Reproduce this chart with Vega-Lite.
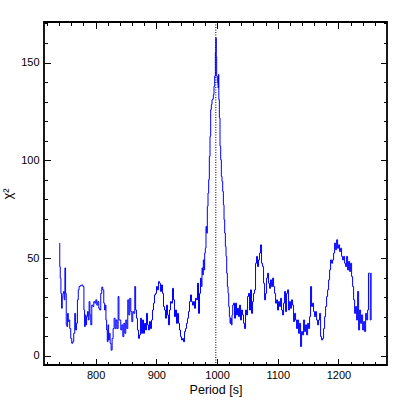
{
  "$schema": "https://vega.github.io/schema/vega-lite/v6.json",
  "width": 343,
  "height": 343,
  "autosize": "none",
  "padding": {"left": 44, "top": 22, "right": 22, "bottom": 44},
  "config": {
    "view": {"stroke": "#000000", "strokeWidth": 1.8},
    "axis": {"domain": false, "grid": false, "labelFont": "Liberation Sans", "titleFont": "Liberation Sans", "labelColor": "#000000", "titleColor": "#000000", "tickColor": "#000000", "tickWidth": 1}
  },
  "datasets": {
    "chi": [
      {"p":740.7,"c":57.7},{"p":741.2,"c":45.7},{"p":742.3,"c":39.8},{"p":743.4,"c":32},{"p":744.5,"c":24.4},{"p":745.6,"c":30},{"p":746.7,"c":32},{"p":747.8,"c":33},{"p":748.9,"c":28.7},{"p":750.0,"c":45},
      {"p":751.1,"c":32},{"p":752.2,"c":15.9},{"p":753.3,"c":15},{"p":754.4,"c":21.8},{"p":755.5,"c":17.6},{"p":756.6,"c":18.4},{"p":758.2,"c":14},{"p":759.9,"c":9},{"p":761.5,"c":6.5},{"p":763.2,"c":7.3},
      {"p":764.8,"c":11.6},{"p":766.5,"c":21.8},{"p":767.6,"c":13.3},{"p":769.2,"c":16.7},{"p":770.9,"c":28.7},{"p":772.0,"c":33.8},{"p":773.6,"c":35.5},{"p":775.8,"c":36},{"p":778.0,"c":36.3},{"p":780.2,"c":35.5},
      {"p":781.3,"c":23.5},{"p":782.4,"c":15},{"p":783.5,"c":21},{"p":784.6,"c":15.9},{"p":785.7,"c":20.1},{"p":787.4,"c":22.7},{"p":788.5,"c":18.4},{"p":790.1,"c":27.8},{"p":791.2,"c":21},{"p":792.9,"c":15.9},
      {"p":794.5,"c":26},{"p":796.2,"c":25.3},{"p":797.8,"c":27.8},{"p":799.5,"c":27},{"p":801.1,"c":28.7},{"p":802.7,"c":26},{"p":804.4,"c":27.8},{"p":806.0,"c":24.4},{"p":807.7,"c":23.5},{"p":809.3,"c":32},
      {"p":811.0,"c":35.2},{"p":812.6,"c":33.8},{"p":814.3,"c":27},{"p":815.4,"c":23.5},{"p":816.5,"c":26},{"p":817.6,"c":18.4},{"p":818.7,"c":13.3},{"p":819.8,"c":7.3},{"p":820.9,"c":15.9},{"p":822.0,"c":8.2},
      {"p":823.1,"c":11.6},{"p":824.7,"c":6.5},{"p":826.4,"c":3},{"p":828.0,"c":9},{"p":829.7,"c":14},{"p":831.3,"c":19.3},{"p":833.0,"c":14},{"p":834.6,"c":18.4},{"p":836.3,"c":14},{"p":837.9,"c":30.4},
      {"p":839.0,"c":18.4},{"p":840.7,"c":18.4},{"p":842.3,"c":13.3},{"p":844.0,"c":15.9},{"p":845.6,"c":9.9},{"p":847.3,"c":16.7},{"p":848.9,"c":11.6},{"p":850.5,"c":18.4},{"p":852.2,"c":14},{"p":853.8,"c":28.7},
      {"p":855.5,"c":21},{"p":857.1,"c":29.5},{"p":858.8,"c":22.7},{"p":860.4,"c":17.6},{"p":862.1,"c":22.7},{"p":863.7,"c":21.8},{"p":865.4,"c":35.5},{"p":866.5,"c":23.5},{"p":868.1,"c":19.3},{"p":869.8,"c":13.3},
      {"p":871.4,"c":9},{"p":873.1,"c":10.8},{"p":874.7,"c":19.3},{"p":876.4,"c":11.6},{"p":878.0,"c":18.4},{"p":879.7,"c":11.6},{"p":881.3,"c":16.7},{"p":883.0,"c":13.3},{"p":884.6,"c":21.8},{"p":886.3,"c":15.9},
      {"p":887.9,"c":13.3},{"p":889.6,"c":17.6},{"p":891.2,"c":14},{"p":892.9,"c":18.4},{"p":894.5,"c":23.5},{"p":896.2,"c":27},{"p":897.8,"c":31.2},{"p":899.5,"c":32},{"p":901.1,"c":35.5},{"p":902.7,"c":33.8},
      {"p":904.4,"c":38},{"p":906.0,"c":37.2},{"p":907.7,"c":33},{"p":909.3,"c":36.3},{"p":911.0,"c":32},{"p":912.6,"c":25.3},{"p":914.3,"c":23.5},{"p":915.9,"c":19.3},{"p":917.6,"c":26},{"p":919.2,"c":21},
      {"p":920.9,"c":15.9},{"p":922.5,"c":23.5},{"p":924.2,"c":27.8},{"p":925.8,"c":27},{"p":927.5,"c":34.6},{"p":929.1,"c":28.7},{"p":930.8,"c":20.1},{"p":932.4,"c":23.5},{"p":934.1,"c":16.7},{"p":935.7,"c":21.8},
      {"p":937.4,"c":16.7},{"p":939.0,"c":13.3},{"p":940.7,"c":9.9},{"p":942.3,"c":8.2},{"p":944.0,"c":9},{"p":945.6,"c":7.3},{"p":947.3,"c":12.5},{"p":948.9,"c":14},{"p":950.5,"c":16.7},{"p":952.2,"c":19.3},
      {"p":953.8,"c":22.7},{"p":955.5,"c":27.8},{"p":957.1,"c":31.2},{"p":958.8,"c":27.8},{"p":960.4,"c":26},{"p":962.1,"c":27.8},{"p":963.7,"c":24.4},{"p":965.4,"c":29.5},{"p":967.0,"c":28.7},{"p":968.7,"c":37.2},
      {"p":970.3,"c":21.8},{"p":972.0,"c":32},{"p":973.6,"c":39.8},{"p":974.7,"c":35.5},{"p":975.8,"c":45},{"p":976.9,"c":41.5},{"p":978.0,"c":49.1},{"p":979.1,"c":44},{"p":980.2,"c":52.6},{"p":981.3,"c":55.1},
      {"p":982.4,"c":66.2},{"p":983.5,"c":62.8},{"p":984.6,"c":76.5},{"p":985.7,"c":83.3},{"p":986.8,"c":90.1},{"p":987.9,"c":102},{"p":989.0,"c":112.3},{"p":990.1,"c":125.9},{"p":991.2,"c":128.5},{"p":992.3,"c":131},
      {"p":993.4,"c":131.4},{"p":994.5,"c":133.6},{"p":995.6,"c":137.9},{"p":996.7,"c":143},{"p":997.8,"c":155},{"p":998.4,"c":162.6},{"p":998.9,"c":153.2},{"p":1000.0,"c":143},{"p":1001.1,"c":139.6},{"p":1002.2,"c":137},
      {"p":1002.7,"c":143.9},{"p":1003.3,"c":131},{"p":1004.4,"c":121.7},{"p":1005.5,"c":107.2},{"p":1006.6,"c":100.3},{"p":1007.7,"c":91.8},{"p":1008.8,"c":89.2},{"p":1009.9,"c":84.1},{"p":1011.0,"c":77.3},{"p":1012.1,"c":69.6},
      {"p":1013.2,"c":62.8},{"p":1014.3,"c":56},{"p":1015.4,"c":50.9},{"p":1016.5,"c":42.3},{"p":1017.6,"c":35.5},{"p":1018.7,"c":32},{"p":1019.8,"c":25.3},{"p":1020.9,"c":20.1},{"p":1022.0,"c":16.7},{"p":1023.1,"c":19.3},
      {"p":1024.2,"c":15.9},{"p":1025.3,"c":21},{"p":1026.4,"c":26},{"p":1028.0,"c":27},{"p":1029.7,"c":19.3},{"p":1031.3,"c":27},{"p":1033.0,"c":21},{"p":1034.6,"c":24.4},{"p":1036.3,"c":20.1},{"p":1037.9,"c":26},
      {"p":1039.6,"c":18.4},{"p":1041.2,"c":23.5},{"p":1042.9,"c":21},{"p":1044.5,"c":16.7},{"p":1046.2,"c":14},{"p":1047.8,"c":23.5},{"p":1049.5,"c":21},{"p":1051.1,"c":30.4},{"p":1052.7,"c":32},{"p":1054.4,"c":23.5},
      {"p":1056.0,"c":33.8},{"p":1057.7,"c":21.8},{"p":1059.3,"c":27.8},{"p":1061.0,"c":32},{"p":1062.6,"c":33.8},{"p":1064.3,"c":47.4},{"p":1065.9,"c":50.9},{"p":1067.6,"c":45.7},{"p":1069.2,"c":49.1},{"p":1070.9,"c":52.6},
      {"p":1072.5,"c":56.8},{"p":1074.2,"c":47.4},{"p":1075.8,"c":45.7},{"p":1077.5,"c":37.2},{"p":1079.1,"c":28.7},{"p":1080.8,"c":32},{"p":1082.4,"c":39.8},{"p":1084.1,"c":42.3},{"p":1085.7,"c":37.2},{"p":1087.4,"c":34.6},
      {"p":1089.0,"c":38.9},{"p":1090.7,"c":35.5},{"p":1092.3,"c":39.8},{"p":1094.0,"c":35.5},{"p":1095.6,"c":32},{"p":1097.3,"c":27},{"p":1098.9,"c":28.7},{"p":1100.5,"c":23.5},{"p":1102.2,"c":27.8},{"p":1103.8,"c":25.3},
      {"p":1105.5,"c":29.5},{"p":1107.1,"c":23.5},{"p":1108.8,"c":21},{"p":1110.4,"c":27},{"p":1112.1,"c":33},{"p":1113.7,"c":22.7},{"p":1115.4,"c":32},{"p":1117.0,"c":33.8},{"p":1118.7,"c":23.5},{"p":1120.3,"c":27.8},
      {"p":1122.0,"c":24.4},{"p":1123.6,"c":28.7},{"p":1125.3,"c":26},{"p":1126.9,"c":17.6},{"p":1128.6,"c":21.8},{"p":1130.2,"c":18.4},{"p":1131.9,"c":14},{"p":1133.5,"c":18.4},{"p":1135.2,"c":11.6},{"p":1136.8,"c":16.7},
      {"p":1138.5,"c":4.8},{"p":1140.1,"c":12.5},{"p":1141.8,"c":10.8},{"p":1143.4,"c":18.4},{"p":1145.1,"c":12.5},{"p":1146.7,"c":15.9},{"p":1148.4,"c":10.8},{"p":1150.0,"c":16.7},{"p":1151.6,"c":14},{"p":1153.3,"c":20.1},
      {"p":1154.9,"c":35.5},{"p":1156.6,"c":25.3},{"p":1158.2,"c":27},{"p":1159.9,"c":22.7},{"p":1161.5,"c":20.1},{"p":1163.2,"c":22.7},{"p":1164.8,"c":18.4},{"p":1166.5,"c":15.9},{"p":1168.1,"c":18.4},{"p":1169.8,"c":21.8},
      {"p":1171.4,"c":9.9},{"p":1173.1,"c":8.2},{"p":1174.7,"c":9},{"p":1176.4,"c":14},{"p":1178.0,"c":20.1},{"p":1179.7,"c":25.3},{"p":1181.3,"c":30.4},{"p":1183.0,"c":33.8},{"p":1184.6,"c":38.9},{"p":1186.3,"c":44},
      {"p":1187.9,"c":49.1},{"p":1189.6,"c":47.4},{"p":1191.2,"c":49.1},{"p":1192.9,"c":52.6},{"p":1194.5,"c":57.7},{"p":1196.2,"c":54.3},{"p":1197.8,"c":59.4},{"p":1199.5,"c":55.1},{"p":1201.1,"c":56.8},{"p":1202.7,"c":53.4},
      {"p":1204.4,"c":55.1},{"p":1206.0,"c":50.9},{"p":1207.7,"c":49.1},{"p":1209.3,"c":50.9},{"p":1211.0,"c":47.4},{"p":1212.6,"c":45.7},{"p":1214.3,"c":50.9},{"p":1215.9,"c":44},{"p":1217.6,"c":48.3},{"p":1219.2,"c":43.2},
      {"p":1220.9,"c":47.4},{"p":1222.5,"c":40.6},{"p":1224.2,"c":35.5},{"p":1225.8,"c":28.7},{"p":1227.5,"c":21.8},{"p":1229.1,"c":25.3},{"p":1230.8,"c":18.4},{"p":1232.4,"c":33},{"p":1234.1,"c":13.3},{"p":1235.7,"c":23.5},
      {"p":1237.4,"c":16.7},{"p":1239.0,"c":21},{"p":1240.7,"c":13.3},{"p":1242.3,"c":17.6},{"p":1244.0,"c":12.5},{"p":1245.6,"c":21.8},{"p":1247.3,"c":18.4},{"p":1248.9,"c":23.5},{"p":1250.0,"c":42.3},{"p":1251.6,"c":42.3},
      {"p":1253.3,"c":18.4},{"p":1254.4,"c":42.3}
    ],
    "anchor": [{"p": 800, "c": 0}],
    "mark": [{"p": 998}]
  },
  "resolve": {"axis": {"x": "independent", "y": "independent"}},
  "layer": [
    {
      "data": {"name": "chi"},
      "mark": {"type": "line", "interpolate": "step", "color": "#0000ff", "strokeWidth": 1},
      "encoding": {
        "x": {"field": "p", "type": "quantitative", "scale": {"domain": [715, 1280], "nice": false, "zero": false},
              "axis": {"orient": "bottom", "values": [800, 900, 1000, 1100, 1200], "format": "d", "ticks": false, "labelPadding": 4, "labelFontSize": 11, "title": "Period [s]", "titleFontSize": 12.5, "titleFontWeight": "normal", "titlePadding": 3}},
        "y": {"field": "c", "type": "quantitative", "scale": {"domain": [-4.6, 170.7], "nice": false, "zero": false},
              "axis": {"orient": "left", "values": [0, 50, 100, 150], "format": "d", "ticks": false, "labelPadding": 5, "labelFontSize": 11, "title": "χ²", "titleFontSize": 13, "titleFontWeight": "normal", "titlePadding": 6}}
      }
    },
    {
      "data": {"name": "anchor"},
      "mark": {"type": "point", "opacity": 0},
      "encoding": {
        "x": {"field": "p", "type": "quantitative", "scale": {"domain": [715, 1280], "nice": false, "zero": false},
              "axis": {"orient": "bottom", "values": [800, 900, 1000, 1100, 1200], "labels": false, "tickSize": -6.5, "title": null}},
        "y": {"field": "c", "type": "quantitative", "scale": {"domain": [-4.6, 170.7], "nice": false, "zero": false},
              "axis": {"orient": "left", "values": [0, 50, 100, 150], "labels": false, "tickSize": -6.5, "title": null}}
      }
    },
    {
      "data": {"name": "anchor"},
      "mark": {"type": "point", "opacity": 0},
      "encoding": {
        "x": {"field": "p", "type": "quantitative", "scale": {"domain": [715, 1280], "nice": false, "zero": false},
              "axis": {"orient": "bottom", "values": [720, 740, 760, 780, 820, 840, 860, 880, 920, 940, 960, 980, 1020, 1040, 1060, 1080, 1120, 1140, 1160, 1180, 1220, 1240, 1260], "labels": false, "tickSize": -3.5, "title": null}},
        "y": {"field": "c", "type": "quantitative", "scale": {"domain": [-4.6, 170.7], "nice": false, "zero": false},
              "axis": {"orient": "left", "values": [10, 20, 30, 40, 60, 70, 80, 90, 110, 120, 130, 140, 160, 170], "labels": false, "tickSize": -3.5, "title": null}}
      }
    },
    {
      "data": {"name": "anchor"},
      "mark": {"type": "point", "opacity": 0},
      "encoding": {
        "x": {"field": "p", "type": "quantitative", "scale": {"domain": [715, 1280], "nice": false, "zero": false},
              "axis": {"orient": "top", "values": [800, 900, 1000, 1100, 1200], "labels": false, "tickSize": -6.5, "title": null}},
        "y": {"field": "c", "type": "quantitative", "scale": {"domain": [-4.6, 170.7], "nice": false, "zero": false},
              "axis": {"orient": "right", "values": [0, 50, 100, 150], "labels": false, "tickSize": -6.5, "title": null}}
      }
    },
    {
      "data": {"name": "anchor"},
      "mark": {"type": "point", "opacity": 0},
      "encoding": {
        "x": {"field": "p", "type": "quantitative", "scale": {"domain": [715, 1280], "nice": false, "zero": false},
              "axis": {"orient": "top", "values": [720, 740, 760, 780, 820, 840, 860, 880, 920, 940, 960, 980, 1020, 1040, 1060, 1080, 1120, 1140, 1160, 1180, 1220, 1240, 1260], "labels": false, "tickSize": -3.5, "title": null}},
        "y": {"field": "c", "type": "quantitative", "scale": {"domain": [-4.6, 170.7], "nice": false, "zero": false},
              "axis": {"orient": "right", "values": [10, 20, 30, 40, 60, 70, 80, 90, 110, 120, 130, 140, 160, 170], "labels": false, "tickSize": -3.5, "title": null}}
      }
    },
    {
      "data": {"name": "mark"},
      "mark": {"type": "rule", "color": "#000000", "strokeWidth": 1, "strokeDash": [1, 1.5]},
      "encoding": {
        "x": {"field": "p", "type": "quantitative", "scale": {"domain": [715, 1280], "nice": false, "zero": false}, "axis": null}
      }
    }
  ]
}
